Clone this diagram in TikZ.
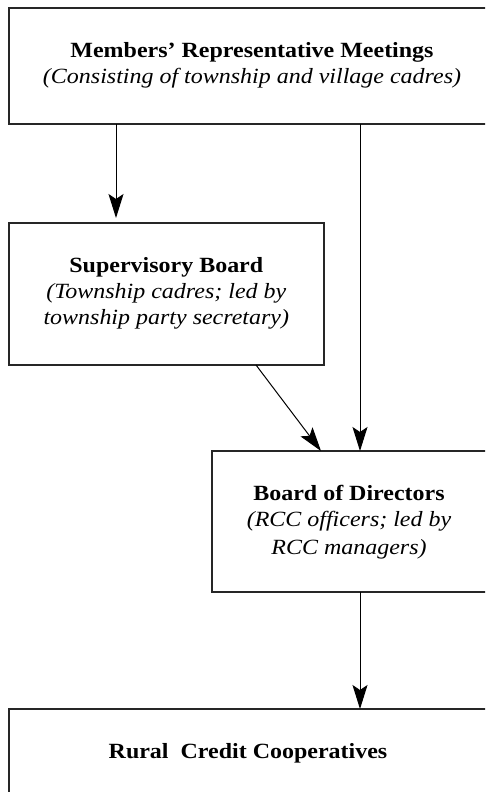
\documentclass[tikz,border=0pt]{standalone}
\usepackage{fontspec}
\setmainfont{Liberation Serif}
\usetikzlibrary{arrows.meta}
\tikzset{
  box/.style={draw=black!85, line width=1.2pt, rectangle, inner sep=0pt, outer sep=0pt, anchor=north west},
  arr/.style={draw=black, line width=1pt, -{Stealth[length=24pt,width=15pt,inset=5pt]}},
  tl/.style={anchor=base, inner sep=0pt, font=\fontsize{21.7}{25.5}\selectfont}
}
\newcommand{\wx}[1]{\scalebox{1.105}[1]{#1}}
\begin{document}
\begin{tikzpicture}[x=1pt,y=-1pt]
\useasboundingbox (0,0) rectangle (485,792);
\clip (0,0) rectangle (485,792);
\fill[white] (0,0) rectangle (485,792);
% boxes
\node[box, minimum width=491pt, minimum height=116pt] (top) at (9,8) {};
\node[box, minimum width=315pt, minimum height=142pt] (sup) at (9,223) {};
\node[box, minimum width=288pt, minimum height=141pt] (bod) at (212,451) {};
\node[box, minimum width=491pt, minimum height=120pt] (rcc) at (9,709) {};
% texts
\node[tl] (t1) at (252,58) {\wx{\bfseries Members’ Representative Meetings}};
\node[tl] (t2) at (252,83.3) {\wx{\itshape (Consisting of township and village cadres)}};
\node[tl] (s1) at (166.3,272.7) {\wx{\bfseries Supervisory Board}};
\node[tl] (s2) at (166.3,298.3) {\wx{\itshape (Township cadres; led by}};
\node[tl] (s3) at (166.3,324) {\wx{\itshape township party secretary)}};
\node[tl] (b1) at (349,500) {\wx{\bfseries Board of Directors}};
\node[tl] (b2) at (349,526.7) {\wx{\itshape (RCC officers; led by}};
\node[tl] (b3) at (349,554) {\wx{\itshape RCC managers)}};
\node[tl] (r1) at (248,758.3) {\wx{\bfseries Rural\ \ Credit Cooperatives}};
% connector x positions
\coordinate (xa) at (116,0);
\coordinate (xb) at (360,0);
\coordinate (xc) at (256,0);
\coordinate (xd) at (321,0);
% connectors
\draw[arr, shorten >=5pt] (top.south -| xa) -- (sup.north -| xa);
\draw[arr] (top.south -| xb) -- (bod.north -| xb);
\draw[arr] (sup.south -| xc) -- (bod.north -| xd);
\draw[arr] (bod.south -| xb) -- (rcc.north -| xb);
\end{tikzpicture}
\end{document}
